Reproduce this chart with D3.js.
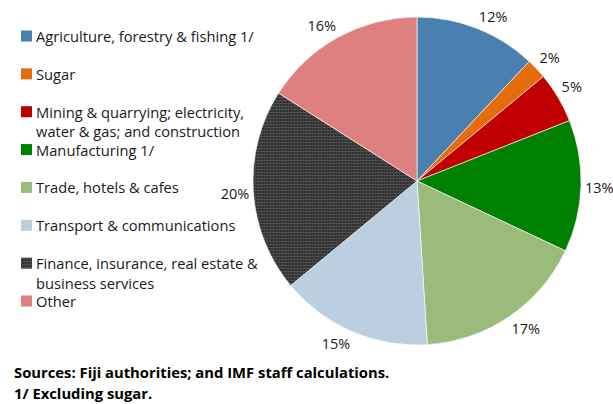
<!DOCTYPE html>
<html>
<head>
<meta charset="utf-8">
<script src="https://cdn.jsdelivr.net/npm/d3@7/dist/d3.min.js"></script>
<style>
  html, body { margin: 0; padding: 0; background: #fff; }
  svg { display: block; }
</style>
</head>
<body>
<svg id="chart" width="613" height="404"></svg>
<script>
// GDP composition by sector (percent)
const sectors = [
  "Agriculture, forestry & fishing 1/",
  "Sugar",
  "Mining & quarrying; electricity, water & gas; and construction",
  "Manufacturing 1/",
  "Trade, hotels & cafes",
  "Transport & communications",
  "Finance, insurance, real estate & business services",
  "Other"
];
const legendLines = [
  ["Agriculture, forestry & fishing 1/"],
  ["Sugar"],
  ["Mining & quarrying; electricity,", "water & gas; and construction"],
  ["Manufacturing 1/"],
  ["Trade, hotels & cafes"],
  ["Transport & communications"],
  ["Finance, insurance, real estate &", "business services"],
  ["Other"]
];
const shares = [12, 2, 5, 13, 17, 15, 20, 16];
const colors = ["#4a80b0", "#e46c0a", "#c00000", "#008000", "#9bbb7a", "#bccfe1", "url(#gridFill)", "#e07f80"];
const notes = [
  "Sources: Fiji authorities; and IMF staff calculations.",
  "1/ Excluding sugar."
];

const svg = d3.select("#chart");

// Fine grid fill for the finance slice
const defs = svg.append("defs");
const pat = defs.append("pattern")
  .attr("id", "gridFill")
  .attr("patternUnits", "userSpaceOnUse")
  .attr("width", 3).attr("height", 3);
pat.append("rect").attr("width", 3).attr("height", 3).attr("fill", "#303030");
pat.append("rect").attr("width", 3).attr("height", 1).attr("fill", "#545454");
pat.append("rect").attr("width", 1).attr("height", 3).attr("fill", "#454545");

const cx = 417, cy = 181, r = 164;
const pie = d3.pie().sort(null).value(d => d)(shares);
const arc = d3.arc().innerRadius(0).outerRadius(r);

const g = svg.append("g").attr("transform", `translate(${cx},${cy})`);
g.selectAll("path.slice")
  .data(pie)
  .join("path")
  .attr("class", "slice")
  .attr("d", arc)
  .attr("fill", (d, i) => colors[i])
  .attr("stroke", "#ffffff")
  .attr("stroke-width", 0.6);

// Outside-end labels: the label box's inner corner sits just beyond the rim
const labelH = 17, gap = 4;
g.selectAll("text.pct")
  .data(pie)
  .join("text")
  .attr("class", "pct")
  .attr("text-anchor", "middle")
  .attr("dominant-baseline", "central")
  .attr("font-family", "'Open Sans', sans-serif")
  .attr("font-size", 14.5)
  .attr("fill", "#1a1a1a")
  .text(d => d3.format("d")(d.data) + "%")
  .attr("x", function(d) {
    const a = (d.startAngle + d.endAngle) / 2;
    const w = this.getComputedTextLength();
    return Math.sin(a) * (r + gap) + Math.sign(Math.sin(a)) * w / 2;
  })
  .attr("y", d => {
    const a = (d.startAngle + d.endAngle) / 2;
    const k = Math.max(-1, Math.min(1, Math.cos(a) * 3));
    return -Math.cos(a) * (r + gap) - k * labelH / 2;
  });

// Legend
const legend = svg.append("g").attr("font-family", "'Open Sans', sans-serif").attr("font-size", 14.7).attr("fill", "#1a1a1a");
const legendY = d3.scaleLinear().domain([0, sectors.length - 1]).range([36, 301]);
sectors.forEach((s, i) => {
  const y = legendY(i);
  legend.append("rect")
    .attr("x", 21).attr("y", y - 5.5)
    .attr("width", 11).attr("height", 11)
    .attr("fill", colors[i]);
  const t = legend.append("text")
    .attr("x", 36).attr("y", y)
    .attr("dominant-baseline", "central");
  legendLines[i].forEach((line, k) => {
    t.append("tspan").attr("x", 36).attr("dy", k === 0 ? 0 : 19.5).text(line);
  });
});

// Source notes
svg.append("g")
  .attr("font-family", "'Open Sans', sans-serif")
  .attr("font-weight", "bold")
  .attr("font-size", 14.8)
  .attr("fill", "#000")
  .selectAll("text")
  .data(notes)
  .join("text")
  .attr("x", 14)
  .attr("y", (d, i) => 378 + i * 21)
  .text(d => d);
</script>
</body>
</html>
